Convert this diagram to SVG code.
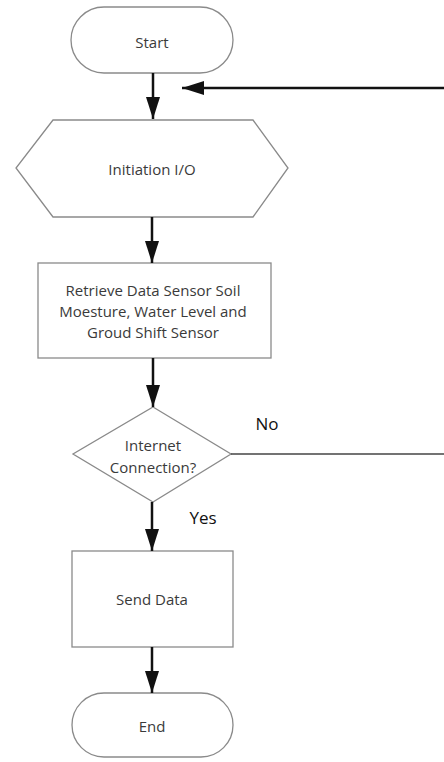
<svg xmlns="http://www.w3.org/2000/svg" width="444" height="762" viewBox="0 0 444 762">
<style>
.shape{fill:#fff;stroke:#8a8a8a;stroke-width:1.3}
.t{font-family:"Open Sans","Liberation Sans",sans-serif;font-size:15px;fill:#3a3a3a;text-anchor:middle;dominant-baseline:central}
.lbl{font-family:"Open Sans","Liberation Sans",sans-serif;font-size:17px;fill:#111;text-anchor:middle;dominant-baseline:central}
.c{fill:none;stroke:#111;stroke-width:2.5}
</style>
<defs>
<marker id="ah" markerUnits="userSpaceOnUse" markerWidth="22" markerHeight="14" refX="22" refY="7" orient="auto">
<path d="M0,0 L22,7 L0,14 z" fill="#111"/>
</marker>
</defs>
<rect width="444" height="762" fill="#fff"/>
<g id="start">
<rect class="shape" x="71" y="7" width="162" height="66" rx="33" ry="33"/>
<text class="t" x="152" y="42">Start</text>
</g>
<g id="init">
<polygon class="shape" points="53,120 253,120 288,168 253,217 53,217 16,168"/>
<text class="t" x="152" y="169">Initiation I/O</text>
</g>
<g id="retrieve">
<rect class="shape" x="38" y="263" width="233" height="95"/>
<text class="t" x="153" y="290">Retrieve Data Sensor Soil</text>
<text class="t" x="153" y="311">Moesture, Water Level and</text>
<text class="t" x="153" y="332">Groud Shift Sensor</text>
</g>
<g id="decision">
<polygon class="shape" points="153,407 231,454 153,502 73,454"/>
<text class="t" x="153" y="445">Internet</text>
<text class="t" x="153" y="467">Connection?</text>
</g>
<g id="send">
<rect class="shape" x="72" y="551" width="161" height="96"/>
<text class="t" x="152" y="599">Send Data</text>
</g>
<g id="end">
<rect class="shape" x="72" y="693" width="161" height="64" rx="32" ry="32"/>
<text class="t" x="152" y="726">End</text>
</g>
<g id="connectors">
<line class="c" x1="153" y1="73" x2="153" y2="119" marker-end="url(#ah)"/>
<line class="c" x1="444" y1="88" x2="182" y2="88" marker-end="url(#ah)"/>
<line class="c" x1="152" y1="217" x2="152" y2="263" marker-end="url(#ah)"/>
<line class="c" x1="153" y1="358" x2="153" y2="407" marker-end="url(#ah)"/>
<line x1="231" y1="454" x2="444" y2="454" stroke="#444" stroke-width="1.5"/>
<line class="c" x1="152" y1="502" x2="152" y2="551" marker-end="url(#ah)"/>
<line class="c" x1="152" y1="647" x2="152" y2="693" marker-end="url(#ah)"/>
<text class="lbl" x="267" y="423">No</text>
<text class="lbl" x="203" y="517">Yes</text>
</g>
</svg>
